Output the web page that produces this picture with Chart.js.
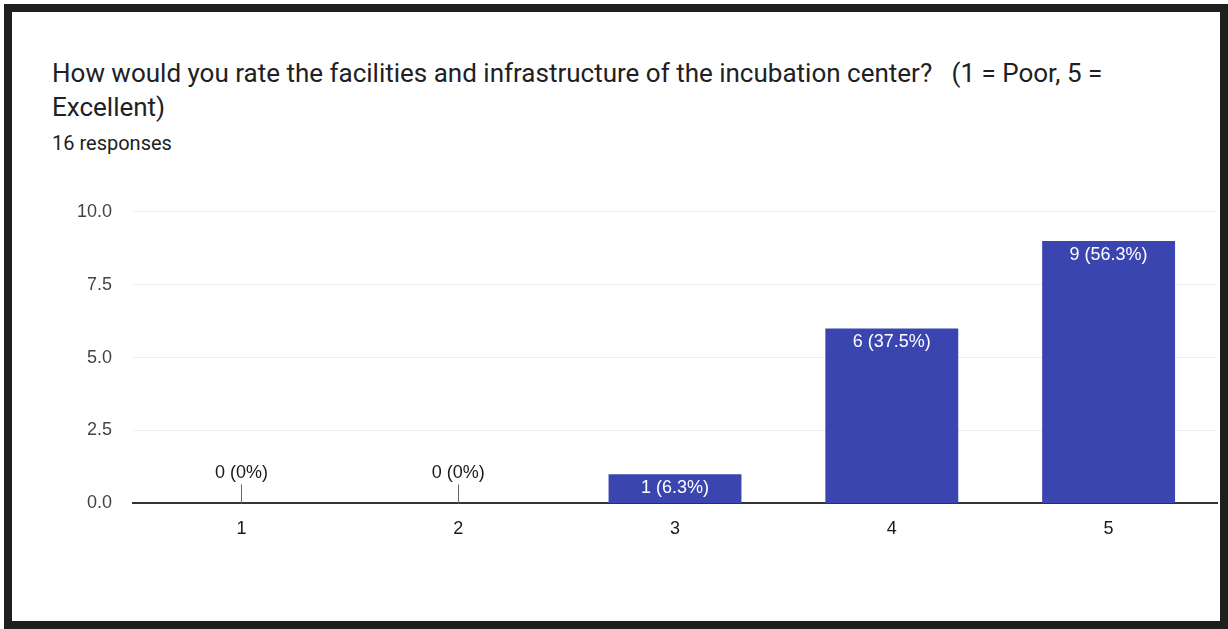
<!DOCTYPE html>
<html lang="en">
<head>
<meta charset="UTF-8">
<title>Facilities rating</title>
<script src="https://cdn.jsdelivr.net/npm/chart.js"></script>
<style>
  html, body { margin: 0; padding: 0; background: #fff; }
  body { width: 1228px; height: 629px; position: relative; overflow: hidden; font-family: Roboto, Arial, sans-serif; }
  .frame { position: absolute; left: 4px; top: 4px; width: 1208px; height: 609px; border: 8px solid #1f1f1f; }
  .title { position: absolute; left: 52px; top: 56px; font-size: 26px; line-height: 34px; color: #202124; white-space: nowrap; }
  .sub { position: absolute; left: 52px; top: 131px; font-size: 20px; color: #202124; }
  #chart { position: absolute; left: 0; top: 180px; }
</style>
</head>
<body>
<div class="frame"></div>
<div class="title">How would you rate the facilities and infrastructure of the incubation center?&nbsp;&nbsp; (1 = Poor, 5 =<br>Excellent)</div>
<div class="sub">16 responses</div>
<canvas id="chart" width="1228" height="367"></canvas>
<script>
const categories = ['1', '2', '3', '4', '5'];
const counts = [0, 0, 1, 6, 9];
const yTicks = [0, 2.5, 5, 7.5, 10];
const total = 16;

const barColor = '#3b45b0';
const fontFamily = '"Liberation Sans", Arial, sans-serif';

function labelFor(v) {
  const pct = parseFloat((v / total * 100).toFixed(1));
  return v + ' (' + pct + '%)';
}

const barLabels = {
  id: 'barLabels',
  afterDatasetsDraw(chart) {
    const ctx = chart.ctx;
    const meta = chart.getDatasetMeta(0);
    ctx.save();
    ctx.font = '18px ' + fontFamily;
    ctx.textAlign = 'center';
    ctx.textBaseline = 'middle';
    meta.data.forEach((bar, i) => {
      const v = counts[i];
      if (v > 0) {
        ctx.fillStyle = '#ffffff';
        ctx.fillText(labelFor(v), bar.x, bar.y + 14);
      } else {
        ctx.strokeStyle = '#666';
        ctx.lineWidth = 1;
        ctx.beginPath();
        ctx.moveTo(Math.round(bar.x) + 0.5, bar.y);
        ctx.lineTo(Math.round(bar.x) + 0.5, bar.y - 19);
        ctx.stroke();
        ctx.fillStyle = '#1a1a1a';
        ctx.fillText(labelFor(v), bar.x, bar.y - 30);
      }
    });
    ctx.restore();
  }
};

new Chart(document.getElementById('chart'), {
  type: 'bar',
  data: {
    labels: categories,
    datasets: [{
      data: counts,
      backgroundColor: barColor,
      borderWidth: 0,
      categoryPercentage: 1,
      barPercentage: 0.613
    }]
  },
  options: {
    responsive: false,
    animation: false,
    layout: { padding: { left: 0, right: 11, top: 21, bottom: 0 } },
    plugins: { legend: { display: false }, tooltip: { enabled: false } },
    scales: {
      x: {
        grid: { display: false },
        border: { color: '#333', width: 2 },
        ticks: { color: '#1a1a1a', padding: 7, font: { size: 18, family: fontFamily } }
      },
      y: {
        min: 0,
        max: 10,
        afterBuildTicks(axis) { axis.ticks = yTicks.map(v => ({ value: v })); },
        afterFit(axis) { axis.width = 133; },
        grid: {
          drawTicks: false,
          color: ctx => ctx.tick && ctx.tick.value === 0 ? 'rgba(0,0,0,0)' : '#ececec'
        },
        border: { display: false },
        ticks: {
          color: '#444',
          padding: 21,
          font: { size: 18, family: fontFamily },
          callback: v => Number(v).toFixed(1)
        }
      }
    }
  },
  plugins: [barLabels]
});
</script>
</body>
</html>
